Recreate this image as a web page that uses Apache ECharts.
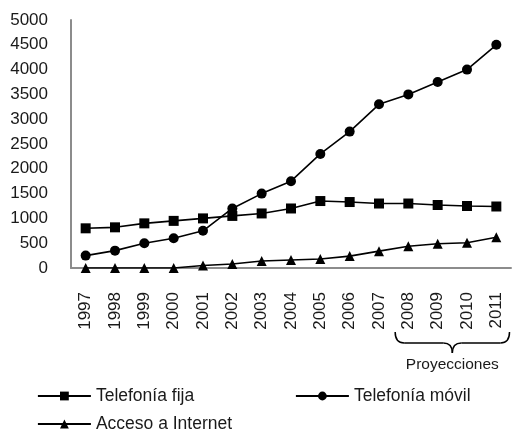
<!DOCTYPE html>
<html>
<head>
<meta charset="utf-8">
<script src="https://cdn.jsdelivr.net/npm/echarts@6/dist/echarts.min.js"></script>
<style>
html,body{margin:0;padding:0;background:#fff;}
#chart{width:512px;height:441px;}
</style>
</head>
<body>
<div id="chart"></div>
<script>
const years = ['1997','1998','1999','2000','2001','2002','2003','2004','2005','2006','2007','2008','2009','2010','2011'];
const telefoniaFija = [800, 820, 900, 950, 1000, 1050, 1100, 1200, 1350, 1330, 1300, 1300, 1270, 1250, 1240];
const telefoniaMovil = [250, 350, 500, 600, 750, 1200, 1500, 1750, 2300, 2750, 3300, 3500, 3750, 4000, 4500];
const accesoInternet = [0, 0, 0, 0, 50, 80, 140, 160, 180, 240, 340, 440, 490, 510, 620];
const projectionYears = ['2008', '2011'];
const projectionLabel = 'Proyecciones';

const FONT = '"Liberation Sans", Arial, sans-serif';
const chart = echarts.init(document.getElementById('chart'), null, {renderer: 'canvas'});

function mkSeries(name, data, symbol) {
  return {
    name, type: 'line', data, symbol, symbolSize: 10,
    showSymbol: true, showAllSymbol: true,
    itemStyle: {color: '#000'},
    lineStyle: {color: '#000', width: 1.6},
    emphasis: {disabled: true}
  };
}
function mkLegend(name, left, top) {
  return {
    data: [name], left, top, orient: 'horizontal',
    itemWidth: 53, itemHeight: 11, itemGap: 0,
    lineStyle: {width: 1.8, color: '#000'},
    textStyle: {fontFamily: FONT, fontSize: 17.5, color: '#1a1a1a'},
    selectedMode: false
  };
}

chart.setOption({
  animation: false,
  backgroundColor: '#fff',
  grid: {left: 71, right: 1, top: 20, bottom: 173, containLabel: false},
  xAxis: {
    type: 'category', data: years, boundaryGap: true,
    axisLine: {lineStyle: {color: '#8c8c8c', width: 2}},
    axisTick: {show: false},
    axisLabel: {rotate: 90, margin: 24, fontFamily: FONT, fontSize: 17, color: '#1a1a1a'}
  },
  yAxis: {
    type: 'value', min: 0, max: 5000, interval: 500,
    axisLine: {show: true, lineStyle: {color: '#8c8c8c', width: 2}},
    axisTick: {show: false},
    splitLine: {show: false},
    axisLabel: {margin: 23, fontFamily: FONT, fontSize: 17, color: '#1a1a1a', formatter: v => String(v)}
  },
  legend: [
    mkLegend('Telefonía fija', 32, 382),
    mkLegend('Telefonía móvil', 290, 382),
    mkLegend('Acceso a Internet', 32, 410)
  ],
  series: [
    mkSeries('Telefonía fija', telefoniaFija, 'rect'),
    mkSeries('Telefonía móvil', telefoniaMovil, 'circle'),
    mkSeries('Acceso a Internet', accesoInternet, 'triangle')
  ]
});

// brace under projected years
const xa = chart.convertToPixel({xAxisIndex: 0}, projectionYears[0]);
const xb = chart.convertToPixel({xAxisIndex: 0}, projectionYears[1]);
const i0 = years.indexOf(projectionYears[0]), i1 = years.indexOf(projectionYears[1]);
const half = (xb - xa) / (i1 - i0) / 2;
const x1 = xa - half + 1.5, x2 = xb + half - 1.5, xm = (x1 + x2) / 2;
const y0 = 332, ymid = 343, ytip = 353, r = 9;
const st = {stroke: '#000', lineWidth: 1.5, fill: null};
function q(ax, ay, cx, cy, bx, by) {
  return {type: 'bezierCurve', shape: {x1: ax, y1: ay, cpx1: cx, cpy1: cy, x2: bx, y2: by}, style: st, silent: true};
}
function ln(ax, ay, bx, by) {
  return {type: 'line', shape: {x1: ax, y1: ay, x2: bx, y2: by}, style: st, silent: true};
}
chart.setOption({
  graphic: [
    q(x1, y0, x1, ymid, x1 + r, ymid),
    ln(x1 + r, ymid, xm - r, ymid),
    q(xm - r, ymid, xm, ymid, xm, ytip),
    q(xm, ytip, xm, ymid, xm + r, ymid),
    ln(xm + r, ymid, x2 - r, ymid),
    q(x2 - r, ymid, x2, ymid, x2, y0),
    {type: 'text', x: xm, y: 365, style: {text: projectionLabel, fontFamily: FONT, fontSize: 15.5, fill: '#1a1a1a', align: 'center', verticalAlign: 'middle'}, silent: true}
  ]
});
</script>
</body>
</html>
